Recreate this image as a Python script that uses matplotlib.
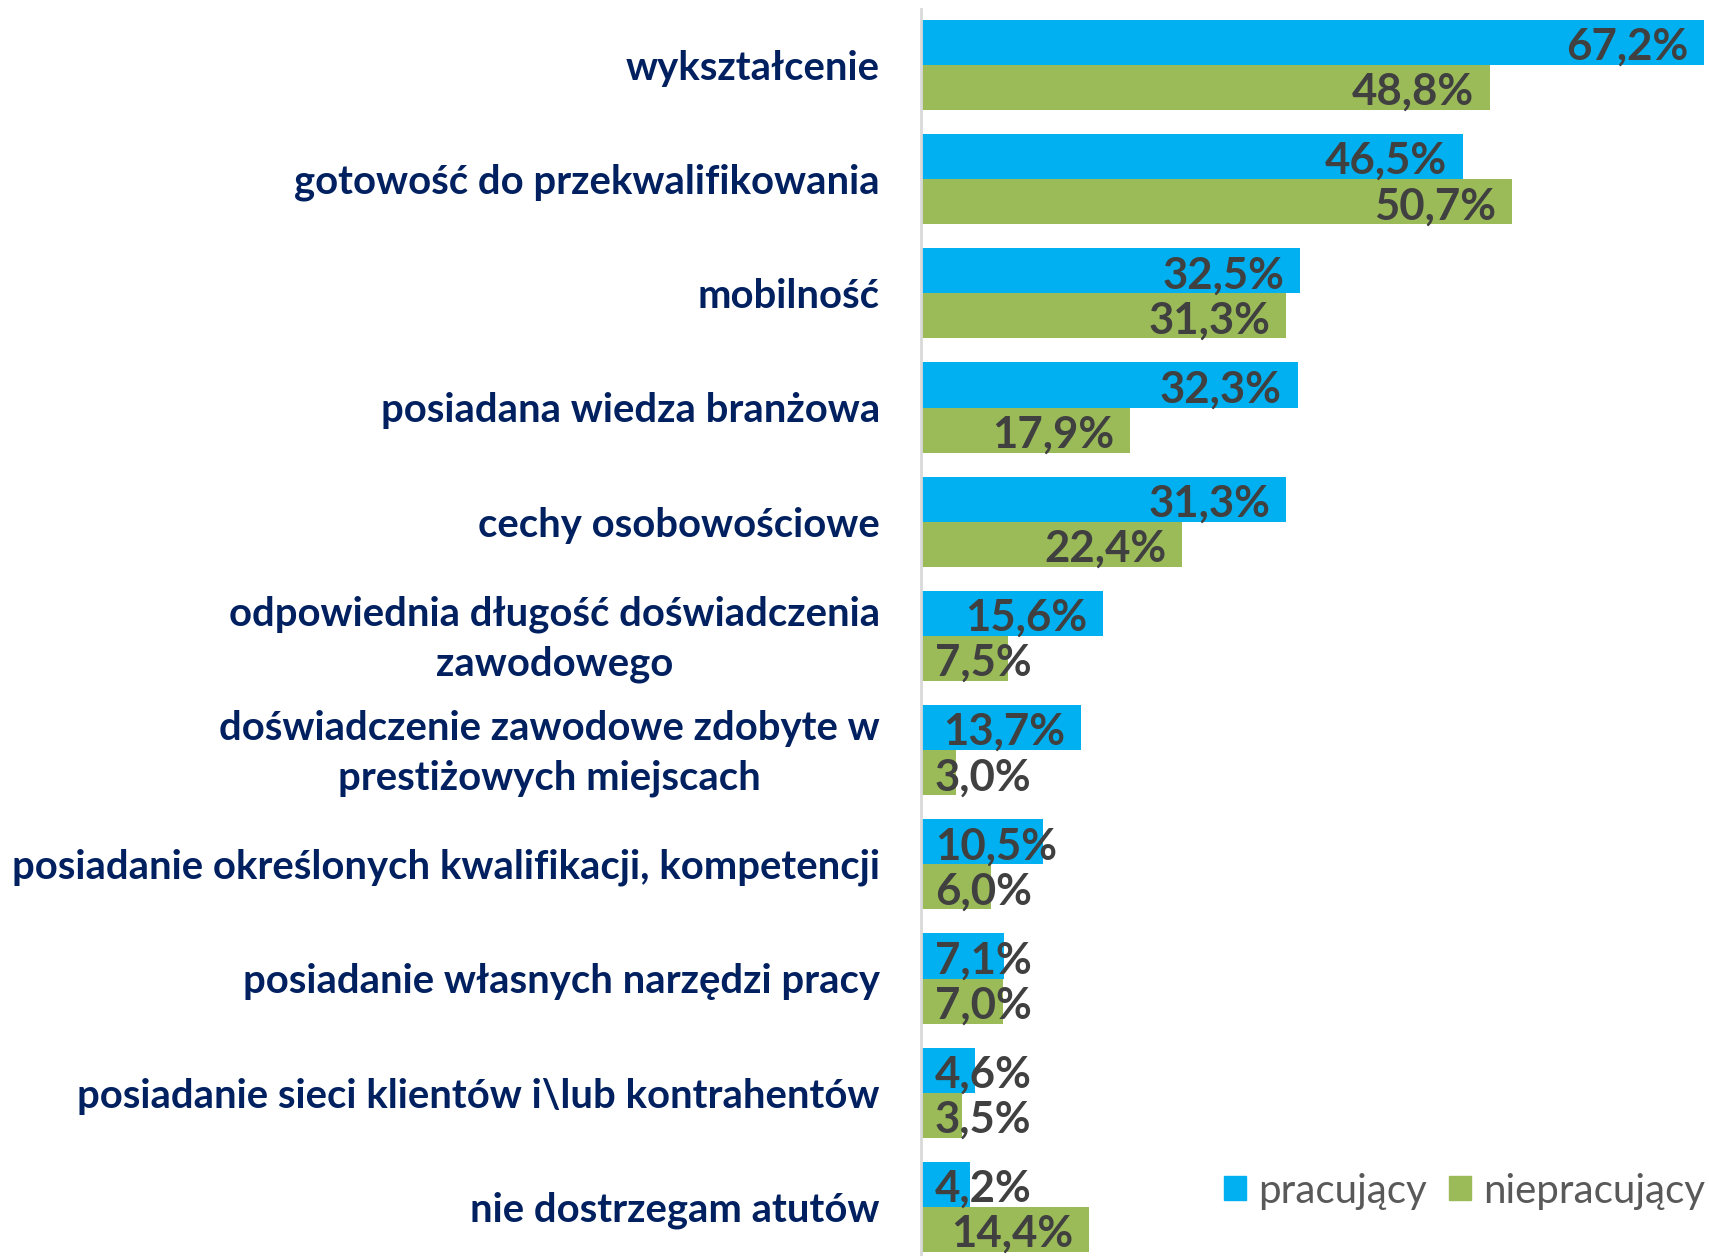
import matplotlib.pyplot as plt
from matplotlib.patches import Patch

categories = [
    "wykształcenie",
    "gotowość do przekwalifikowania",
    "mobilność",
    "posiadana wiedza branżowa",
    "cechy osobowościowe",
    "odpowiednia długość doświadczenia\nzawodowego",
    "doświadczenie zawodowe zdobyte w\nprestiżowych miejscach",
    "posiadanie określonych kwalifikacji, kompetencji",
    "posiadanie własnych narzędzi pracy",
    "posiadanie sieci klientów i\\lub kontrahentów",
    "nie dostrzegam atutów",
]
pracujacy = [67.2, 46.5, 32.5, 32.3, 31.3, 15.6, 13.7, 10.5, 7.1, 4.6, 4.2]
niepracujacy = [48.8, 50.7, 31.3, 17.9, 22.4, 7.5, 3.0, 6.0, 7.0, 3.5, 14.4]
series_names = ["pracujący", "niepracujący"]

blue = "#00B0F0"
green = "#9BBB59"
navy = "#002060"
dark = "#404040"
font = ["Lato", "DejaVu Sans"]

fig = plt.figure(figsize=(17.09, 12.56), dpi=100)
ax = fig.add_axes([921 / 1709, 0, 788 / 1709, 1 - 9 / 1256])

h = 0.395
y = list(range(len(categories)))
ax.barh([i - h / 2 for i in y], pracujacy, height=h, color=blue)
ax.barh([i + h / 2 for i in y], niepracujacy, height=h, color=green)

ax.set_xlim(0, 67.6)
ax.set_ylim(10.43, -0.49)
for s in ["top", "right", "bottom"]:
    ax.spines[s].set_visible(False)
ax.spines["left"].set_color("#D9D9D9")
ax.spines["left"].set_linewidth(2)
ax.set_xticks([])
ax.set_yticks([])

for i, lab in enumerate(categories):
    ax.text(-41 / 11.65, i + 0.03, lab, ha="right", va="center", multialignment="center",
            fontsize=28.8, fontweight="bold", color=navy, family=font,
            linespacing=1.4)

labels = []
for i in y:
    for v, off in ((pracujacy[i], -h / 2), (niepracujacy[i], h / 2)):
        t = ax.text(v - 1.35, i + off + 0.04, f"{v:.1f}%".replace(".", ","),
                    ha="right", va="center", fontsize=31.5, fontweight="bold",
                    color=dark, family=font)
        labels.append(t)

# keep small labels inside the plot area, like the original
fig.canvas.draw()
r = fig.canvas.get_renderer()
x0 = ax.transData.transform((0, 0))[0] + 14
inv = ax.transData.inverted()
for t in labels:
    bb = t.get_window_extent(r)
    if bb.x0 < x0:
        shift = inv.transform((x0 - bb.x0, 0))[0] - inv.transform((0, 0))[0]
        t.set_x(t.get_position()[0] + shift)

handles = [Patch(color=blue, label=series_names[0]),
           Patch(color=green, label=series_names[1])]
fig.legend(handles=handles, loc="center right", bbox_to_anchor=(1.0, 1 - 1191 / 1256),
           ncol=2, frameon=False, prop={"family": font, "size": 29},
           labelcolor="#595959", handlelength=0.55, handleheight=0.55,
           handletextpad=0.3, columnspacing=0.55, borderaxespad=0, borderpad=0.1)

fig.savefig("out.png", dpi=100)
